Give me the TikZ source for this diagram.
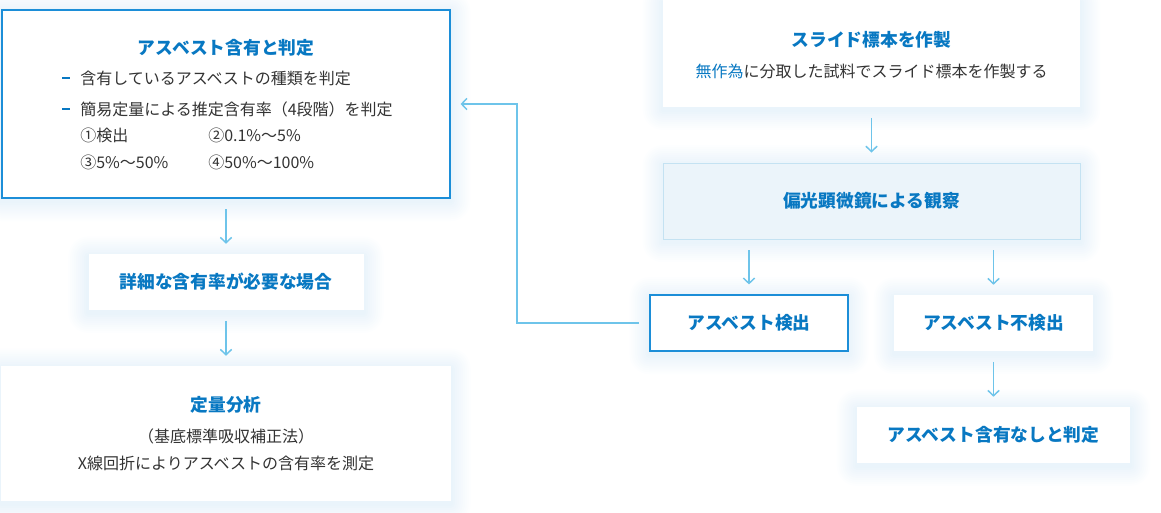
\documentclass[tikz,border=0pt]{standalone}
\usepackage{fontspec}
\setmainfont{Noto Sans CJK JP}
\usetikzlibrary{arrows.meta,backgrounds}
\definecolor{titleblue}{RGB}{8,120,194}
\definecolor{bodygray}{RGB}{51,51,51}
\definecolor{arrowblue}{RGB}{110,196,234}
\definecolor{lineblue}{RGB}{28,142,216}
\definecolor{paleblue}{RGB}{235,244,250}
\definecolor{paleline}{RGB}{196,226,242}
\definecolor{glow}{RGB}{80,160,220}

\begin{document}
\begin{tikzpicture}[x=0.75pt, y=-0.75pt,
  box/.style={rectangle, inner sep=0pt, fill=white},
  bluebox/.style={box, draw=lineblue, line width=0.9pt},
  palebox/.style={box, fill=paleblue, draw=paleline, line width=0.75pt},
  title/.style={font=\fontsize{13.3pt}{16pt}\selectfont\bfseries, text=titleblue},
  body/.style={font=\fontsize{12pt}{15pt}\selectfont, text=bodygray, inner sep=0pt},
  arr/.style={draw=arrowblue, line width=1.1pt, -{Straight Barb[length=4pt, width=8.5pt]},
    shorten <=8pt, shorten >=7.5pt}]

\useasboundingbox (0,0) rectangle (1161,512);

% Left column
\node[bluebox, minimum width=336pt, minimum height=141pt] (judge) at (226,104) {};
\node[title] (judget) at (226,48) {アスベスト含有と判定};
\foreach \i/\y/\txt in {1/78/含有しているアスベストの種類を判定, 2/109/簡易定量による推定含有率（4段階）を判定} {
  \draw[titleblue, line width=1.5pt] (62,\y) -- (70,\y);
  \node[body, anchor=west] (l\i) at (80,\y) {\txt};
}
\foreach \i/\x/\y/\txt in {1/80/135/①検出, 2/208/135/②0.1\%〜5\%, 3/80/162/③5\%〜50\%, 4/208/162/④50\%〜100\%}
  \node[body, anchor=west] (r\i) at (\x,\y) {\txt};

\node[box, minimum width=206.25pt, minimum height=42pt, title] (need) at (226,282) {詳細な含有率が必要な場合};

\node[box, minimum width=336.75pt, minimum height=101.25pt] (quant) at (226,433.5) {};
\node[title] (quantt) at (226,405) {定量分析};
\node[body] (quant1) at (226,436) {（基底標準吸収補正法）};
\node[body] (quant2) at (226,463) {X線回折によりアスベストの含有率を測定};

% Right column
\node[box, minimum width=312.75pt, minimum height=80.25pt] (slide) at (871.5,53.5) {};
\node[title] (slidet) at (871.5,40) {スライド標本を作製};
\node[body] (slide1) at (871.5,71) {\textcolor{titleblue}{無作為}に分取した試料でスライド標本を作製する};

\node[palebox, minimum width=312.75pt, minimum height=57pt, title] (micro) at (871.5,201) {偏光顕微鏡による観察};

\node[bluebox, minimum width=148.5pt, minimum height=42pt, title] (found) at (749,323) {アスベスト検出};
\node[box, minimum width=149.25pt, minimum height=42pt, title] (nfound) at (993.5,323) {アスベスト不検出};
\node[box, minimum width=204.75pt, minimum height=42pt, title] (none) at (993.5,435) {アスベスト含有なしと判定};

% Soft glow behind the boxes
\begin{scope}[on background layer]
\foreach \n in {judge,need,quant,slide,micro,found,nfound,none}
  \foreach \r in {1.5,3,...,15}
    \fill[glow, opacity=0.011, rounded corners=\r pt]
      ([shift={(-\r pt,-\r pt-2pt)}]\n.south west) rectangle ([shift={(\r pt,\r pt-2pt)}]\n.north east);
\end{scope}

% Connections
\draw[arr] (judge) -- (need);
\draw[arr] (need) -- (quant);
\draw[arr] (slide) -- (micro);
\draw[arr] (micro.south -| found) -- (found);
\draw[arr] (micro.south -| nfound) -- (nfound);
\draw[arr] (nfound) -- (none);
\coordinate (bend) at (517,323);
\draw[arr] (found) -- (bend) |- (judge);
\end{tikzpicture}
\end{document}
